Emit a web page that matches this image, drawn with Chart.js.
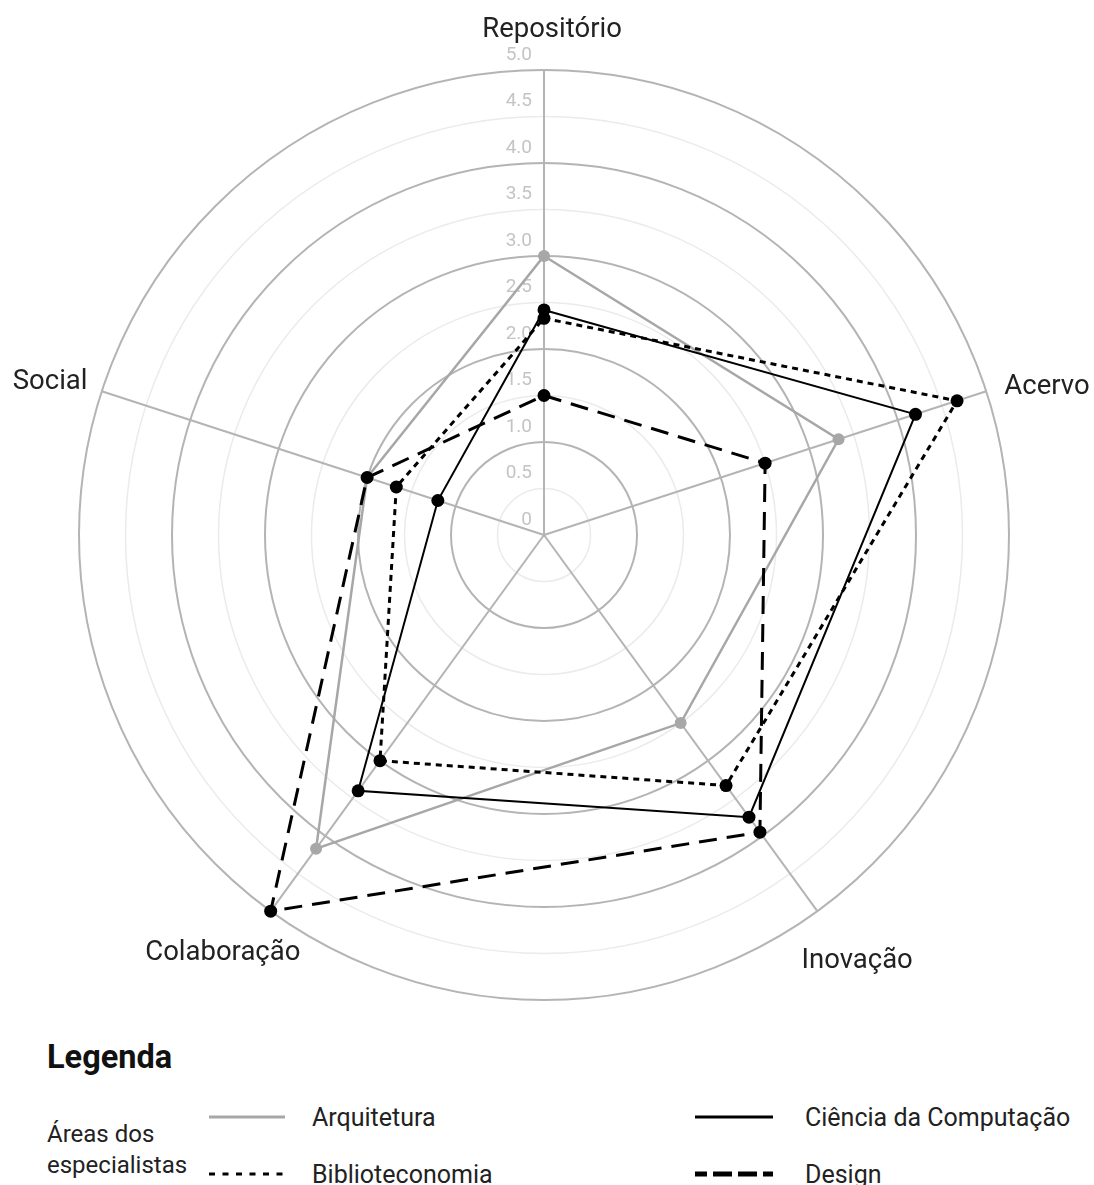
<!DOCTYPE html>
<html><head><meta charset="utf-8">
<script src="https://cdn.jsdelivr.net/npm/chart.js"></script>
<style>
html,body{margin:0;padding:0;background:#fff;}
#wrap{position:relative;width:1094px;height:1185px;overflow:hidden;font-family:Roboto,"Noto Sans",sans-serif;color:#222;}
#c{position:absolute;left:0;top:0;}
.t{position:absolute;white-space:nowrap;}
.ln{position:absolute;}
</style></head><body>
<div id="wrap">
<canvas id="c" width="1094" height="1010"></canvas>
<div id="legend"></div>
</div>
<script>
// ---- data ----
const categories = ['Repositório', 'Acervo', 'Inovação', 'Colaboração', 'Social'];
const seriesNames = ['Arquitetura', 'Biblioteconomia', 'Ciência da Computação', 'Design'];
const arquitetura = [3.0, 3.33, 2.5, 4.17, 2.0];
const biblioteconomia = [2.33, 4.67, 3.33, 3.0, 1.67];
const cienciaComputacao = [2.42, 4.2, 3.75, 3.4, 1.2];
const design = [1.5, 2.5, 3.95, 5.0, 2.0];
const tickLabels = ['0', '0.5', '1.0', '1.5', '2.0', '2.5', '3.0', '3.5', '4.0', '4.5', '5.0'];
const legendTitle = 'Legenda';
const legendGroup = ['Áreas dos', 'especialistas'];

// ---- styles ----
const pointLabelLayout = [
  {gap: 33, align: 'center', dx: 8, dy: 0},
  {gap: 19, align: 'left', dx: 0, dy: 9},
  {gap: 61, align: 'center', dx: 4, dy: 7},
  {gap: 61, align: 'center', dx: -12, dy: -1},
  {gap: 15, align: 'right', dx: 0, dy: 2}
];

const tickPlugin = {
  id: 'tickText',
  beforeDatasetsDraw(chart) {
    const s = chart.scales.r, ctx = chart.ctx;
    ctx.save();
    ctx.font = '19px Roboto';
    ctx.fillStyle = '#c4c4c4';
    ctx.textAlign = 'right';
    ctx.textBaseline = 'middle';
    s.ticks.forEach((t, i) => {
      const d = s.getDistanceFromCenterForValue(t.value);
      ctx.fillText(tickLabels[i], s.xCenter - 12, s.yCenter - d - 15);
    });
    ctx.restore();
  },
  afterDraw(chart) {
    const s = chart.scales.r, ctx = chart.ctx;
    ctx.save();
    ctx.font = '27.5px Roboto';
    ctx.fillStyle = '#222';
    ctx.textBaseline = 'alphabetic';
    categories.forEach((c, i) => {
      const L = pointLabelLayout[i];
      const p = s.getPointPosition(i, s.drawingArea + L.gap);
      ctx.textAlign = L.align;
      ctx.fillText(c, p.x + L.dx, p.y + L.dy);
    });
    ctx.restore();
  }
};

const common = {fill: false, tension: 0, borderJoinStyle: 'miter', pointBorderWidth: 0, pointHoverRadius: 6};
new Chart(document.getElementById('c'), {
  type: 'radar',
  data: {
    labels: categories,
    datasets: [
      Object.assign({}, common, {label: seriesNames[0], data: arquitetura, borderColor: '#a7a7a7', backgroundColor: '#a7a7a7', pointBackgroundColor: '#a7a7a7', borderWidth: 2.5, pointRadius: 6, order: 4}),
      Object.assign({}, common, {label: seriesNames[1], data: biblioteconomia, borderColor: '#000', backgroundColor: '#000', pointBackgroundColor: '#000', borderWidth: 3, borderDash: [6, 5], pointRadius: 6.5, order: 2}),
      Object.assign({}, common, {label: seriesNames[2], data: cienciaComputacao, borderColor: '#000', backgroundColor: '#000', pointBackgroundColor: '#000', borderWidth: 2, pointRadius: 6.5, order: 1}),
      Object.assign({}, common, {label: seriesNames[3], data: design, borderColor: '#000', backgroundColor: '#000', pointBackgroundColor: '#000', borderWidth: 3, borderDash: [18, 10], pointRadius: 6.5, order: 3})
    ]
  },
  options: {
    responsive: false,
    animation: false,
    layout: {padding: {left: 79, top: 70, right: 85, bottom: 10}},
    plugins: {legend: {display: false}, tooltip: {enabled: false}},
    scales: {
      r: {
        min: 0, max: 5,
        ticks: {display: false, stepSize: 0.5},
        pointLabels: {display: false},
        grid: {
          circular: true,
          color: ctx => (Math.round(ctx.tick.value * 2) % 2 === 0 ? '#b4b4b4' : '#ebebeb'),
          lineWidth: ctx => (Math.round(ctx.tick.value * 2) % 2 === 0 ? 2 : 1.5)
        },
        angleLines: {color: '#b4b4b4', lineWidth: 2}
      }
    }
  },
  plugins: [tickPlugin]
});

// ---- legend (HTML) ----
const legendStyles = [
  {x: 209, y: 1117, w: 76, color: '#a7a7a7', width: 3, dash: '', off: 0, tx: 312},
  {x: 209, y: 1174, w: 76, color: '#000', width: 3, dash: '6 7.5', off: 0, tx: 312},
  {x: 695, y: 1117, w: 78, color: '#000', width: 3, dash: '', off: 0, tx: 805},
  {x: 695, y: 1174, w: 78, color: '#000', width: 5, dash: '19 6', off: 7, tx: 805}
];
const lg = document.getElementById('legend');
function addText(txt, x, cy, size, weight) {
  const d = document.createElement('div');
  d.className = 't';
  d.textContent = txt;
  d.style.left = x + 'px';
  d.style.top = (cy - size / 2) + 'px';
  d.style.height = size + 'px';
  d.style.lineHeight = size + 'px';
  d.style.fontSize = size + 'px';
  d.style.fontWeight = weight || 400;
  d.style.color = weight ? '#111' : '#222';
  lg.appendChild(d);
}
addText(legendTitle, 47, 1057, 32.5, 700);
addText(legendGroup[0], 47, 1134, 24);
addText(legendGroup[1], 47, 1165, 24);
seriesNames.forEach((n, i) => {
  const st = legendStyles[i];
  const svgNS = 'http://www.w3.org/2000/svg';
  const svg = document.createElementNS(svgNS, 'svg');
  svg.setAttribute('width', st.w);
  svg.setAttribute('height', 10);
  svg.setAttribute('class', 'ln');
  svg.style.left = st.x + 'px';
  svg.style.top = (st.y - 5) + 'px';
  const l = document.createElementNS(svgNS, 'line');
  l.setAttribute('x1', 0); l.setAttribute('y1', 5);
  l.setAttribute('x2', st.w); l.setAttribute('y2', 5);
  l.setAttribute('stroke', st.color);
  l.setAttribute('stroke-width', st.width);
  if (st.dash) { l.setAttribute('stroke-dasharray', st.dash); l.setAttribute('stroke-dashoffset', st.off); }
  svg.appendChild(l);
  lg.appendChild(svg);
  addText(n, st.tx, st.y, 25);
});
</script>
</body></html>
